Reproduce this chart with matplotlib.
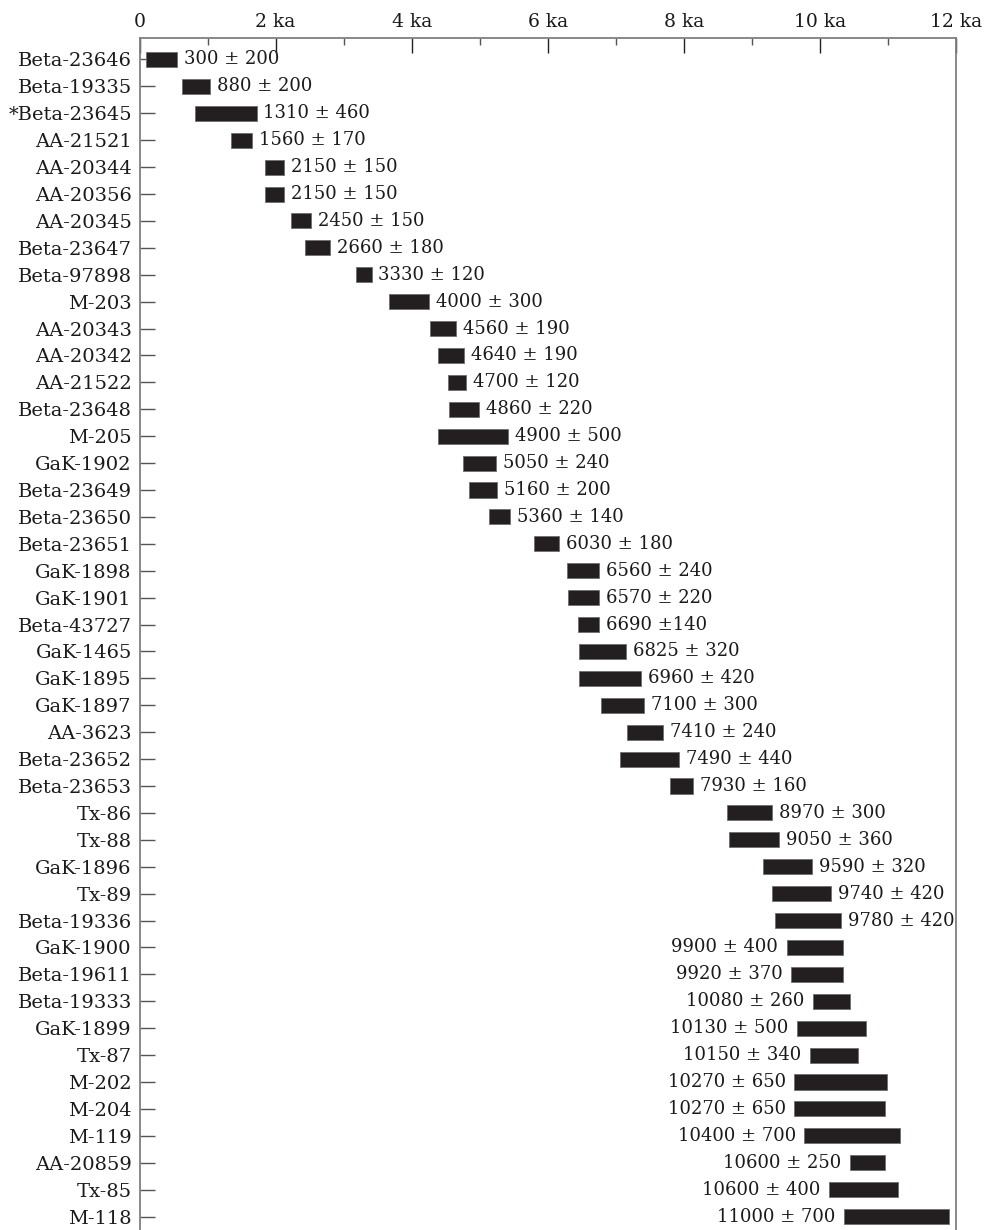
import matplotlib.pyplot as plt
from matplotlib.ticker import MultipleLocator

plt.rcParams['font.family'] = ['DejaVu Serif']

samples = ['Beta-23646', 'Beta-19335', '*Beta-23645', 'AA-21521', 'AA-20344', 'AA-20356',
           'AA-20345', 'Beta-23647', 'Beta-97898', 'M-203', 'AA-20343', 'AA-20342',
           'AA-21522', 'Beta-23648', 'M-205', 'GaK-1902', 'Beta-23649', 'Beta-23650',
           'Beta-23651', 'GaK-1898', 'GaK-1901', 'Beta-43727', 'GaK-1465', 'GaK-1895',
           'GaK-1897', 'AA-3623', 'Beta-23652', 'Beta-23653', 'Tx-86', 'Tx-88',
           'GaK-1896', 'Tx-89', 'Beta-19336', 'GaK-1900', 'Beta-19611', 'Beta-19333',
           'GaK-1899', 'Tx-87', 'M-202', 'M-204', 'M-119', 'AA-20859', 'Tx-85', 'M-118']

dates = ['300 ± 200', '880 ± 200', '1310 ± 460', '1560 ± 170', '2150 ± 150', '2150 ± 150',
         '2450 ± 150', '2660 ± 180', '3330 ± 120', '4000 ± 300', '4560 ± 190', '4640 ± 190',
         '4700 ± 120', '4860 ± 220', '4900 ± 500', '5050 ± 240', '5160 ± 200', '5360 ± 140',
         '6030 ± 180', '6560 ± 240', '6570 ± 220', '6690 ±140', '6825 ± 320', '6960 ± 420',
         '7100 ± 300', '7410 ± 240', '7490 ± 440', '7930 ± 160', '8970 ± 300', '9050 ± 360',
         '9590 ± 320', '9740 ± 420', '9780 ± 420', '9900 ± 400', '9920 ± 370', '10080 ± 260',
         '10130 ± 500', '10150 ± 340', '10270 ± 650', '10270 ± 650', '10400 ± 700',
         '10600 ± 250', '10600 ± 400', '11000 ± 700']

# calibrated age ranges (ka)
start_ka = [0.09, 0.63, 0.81, 1.34, 1.84, 1.84, 2.23, 2.43, 3.18, 3.67, 4.27, 4.39,
            4.53, 4.55, 4.39, 4.76, 4.84, 5.13, 5.80, 6.28, 6.30, 6.44, 6.46, 6.46,
            6.78, 7.17, 7.06, 7.79, 8.64, 8.67, 9.17, 9.29, 9.34, 9.51, 9.57, 9.90,
            9.66, 9.85, 9.62, 9.62, 9.77, 10.44, 10.13, 10.35]
end_ka = [0.55, 1.03, 1.72, 1.65, 2.13, 2.13, 2.52, 2.80, 3.41, 4.26, 4.65, 4.77,
          4.80, 4.99, 5.41, 5.24, 5.26, 5.45, 6.16, 6.75, 6.75, 6.75, 7.15, 7.37,
          7.41, 7.69, 7.93, 8.13, 9.30, 9.40, 9.88, 10.16, 10.31, 10.34, 10.34, 10.44,
          10.67, 10.56, 10.98, 10.95, 11.18, 10.95, 11.15, 11.90]

# from GaK-1900 on the label sits left of the bar
label_left_from = 33

fig = plt.figure(figsize=(9.96, 12.30), dpi=100)
ax = fig.add_axes([139.5 / 996, 0.0, (956 - 139.5) / 996, 1 - 37.7 / 1230])

y = list(range(len(samples)))
widths = [e - s for s, e in zip(start_ka, end_ka)]
ax.barh(y, widths, left=start_ka, height=0.56, color='#231f20',
        edgecolor='#6e6e6e', linewidth=0.6, zorder=3)

for i in y:
    if i < label_left_from:
        ax.annotate(dates[i], (end_ka[i], i), xytext=(5, 0), textcoords='offset points',
                    ha='left', va='center', fontsize=13, color='#1a1a1a')
    else:
        ax.annotate(dates[i], (start_ka[i], i), xytext=(-6, 0), textcoords='offset points',
                    ha='right', va='center', fontsize=13, color='#1a1a1a')

ax.set_xlim(0, 12)
ax.set_ylim(len(samples) - 0.5, -0.81)

ax.xaxis.set_ticks_position('top')
ax.xaxis.set_label_position('top')
ax.set_xticks(range(0, 13, 2))
ax.set_xticklabels(['0'] + ['%d ka' % k for k in range(2, 13, 2)])
ax.xaxis.set_minor_locator(MultipleLocator(1))
ax.tick_params(axis='x', which='major', direction='in', length=11, width=1.0,
               color='#231f20', labelsize=13.5, pad=5, labelcolor='#1a1a1a')
ax.tick_params(axis='x', which='minor', direction='in', length=5, width=1.0,
               color='#555555')

ax.set_yticks(y)
ax.set_yticklabels(samples)
ax.tick_params(axis='y', direction='in', length=11, width=1.0, color='#555555',
               labelsize=14, pad=5.5, labelcolor='#1a1a1a')

for side in ['left', 'right', 'top']:
    ax.spines[side].set_color('#7f7f7f')
    ax.spines[side].set_linewidth(1.3)
ax.spines['bottom'].set_visible(False)

fig.savefig('out.png', dpi=100)
